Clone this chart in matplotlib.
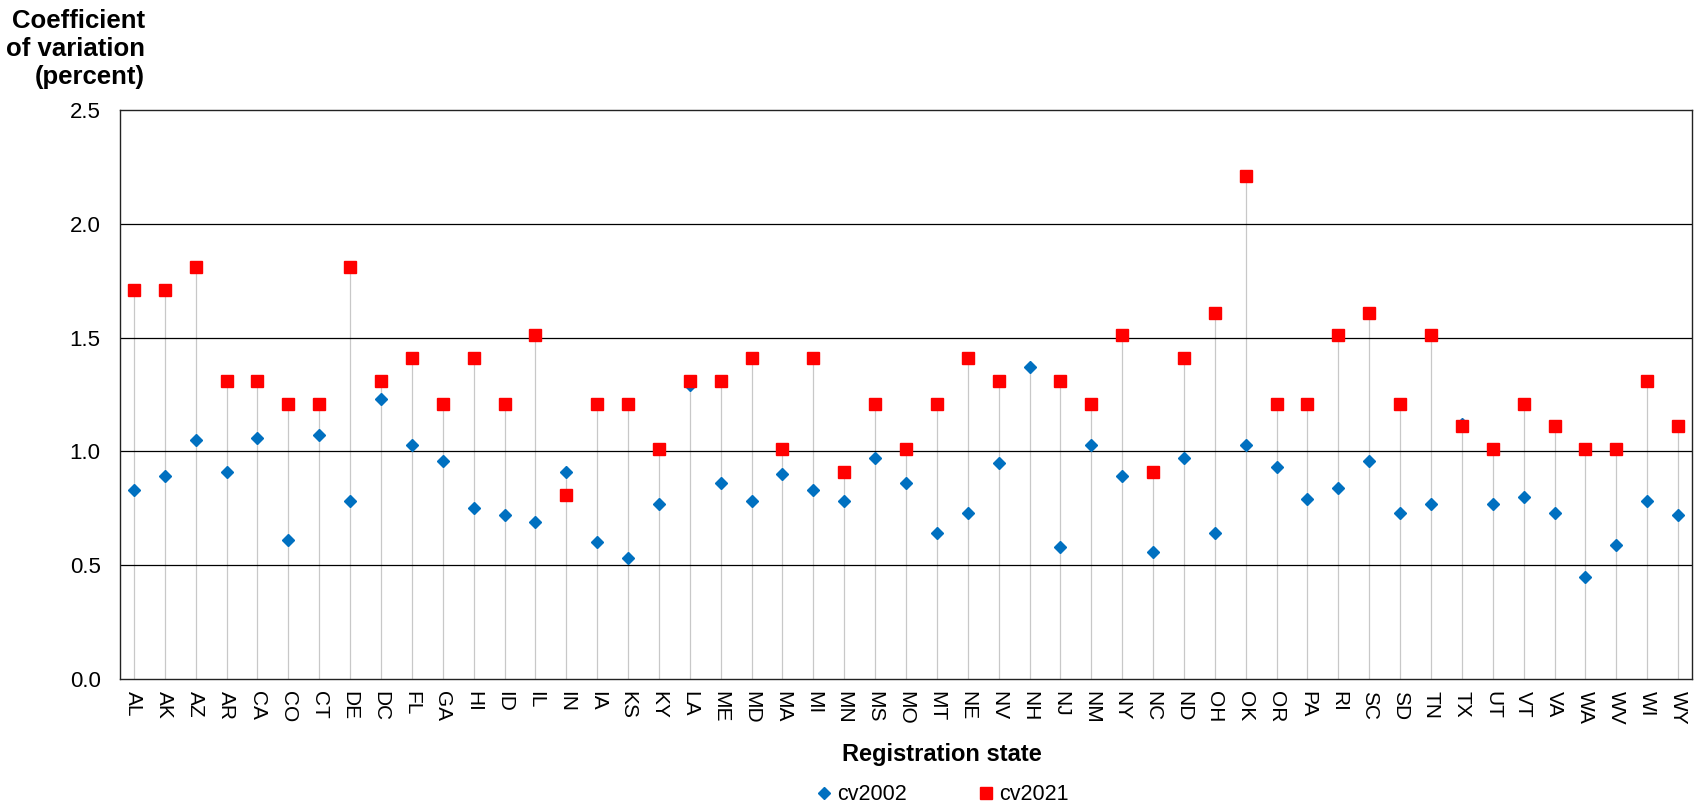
import numpy as np
import matplotlib
matplotlib.use("Agg")
import matplotlib.pyplot as plt
from matplotlib.lines import Line2D

plt.rcParams["font.family"] = ["Liberation Sans", "DejaVu Sans"]

states = ["AL", "AK", "AZ", "AR", "CA", "CO", "CT", "DE", "DC", "FL",
          "GA", "HI", "ID", "IL", "IN", "IA", "KS", "KY", "LA", "ME",
          "MD", "MA", "MI", "MN", "MS", "MO", "MT", "NE", "NV", "NH",
          "NJ", "NM", "NY", "NC", "ND", "OH", "OK", "OR", "PA", "RI",
          "SC", "SD", "TN", "TX", "UT", "VT", "VA", "WA", "WV", "WI", "WY"]

cv2002 = [0.83, 0.89, 1.05, 0.91, 1.06, 0.61, 1.07, 0.78, 1.23, 1.03,
          0.96, 0.75, 0.72, 0.69, 0.91, 0.60, 0.53, 0.77, 1.29, 0.86,
          0.78, 0.90, 0.83, 0.78, 0.97, 0.86, 0.64, 0.73, 0.95, 1.37,
          0.58, 1.03, 0.89, 0.56, 0.97, 0.64, 1.03, 0.93, 0.79, 0.84,
          0.96, 0.73, 0.77, 1.12, 0.77, 0.80, 0.73, 0.45, 0.59, 0.78, 0.72]

# NH has no 2021 value
cv2021 = [1.71, 1.71, 1.81, 1.31, 1.31, 1.21, 1.21, 1.81, 1.31, 1.41,
          1.21, 1.41, 1.21, 1.51, 0.81, 1.21, 1.21, 1.01, 1.31, 1.31,
          1.41, 1.01, 1.41, 0.91, 1.21, 1.01, 1.21, 1.41, 1.31, np.nan,
          1.31, 1.21, 1.51, 0.91, 1.41, 1.61, 2.21, 1.21, 1.21, 1.51,
          1.61, 1.21, 1.51, 1.11, 1.01, 1.21, 1.11, 1.01, 1.01, 1.31, 1.11]

y_ticks = [0.0, 0.5, 1.0, 1.5, 2.0, 2.5]

W, H = 1694, 807
fig = plt.figure(figsize=(W / 100, H / 100), dpi=100)
ax = fig.add_axes([120 / W, 1 - 679 / H, (1692 - 120) / W, (679 - 110) / H])

x = np.arange(len(states))
v02 = np.array(cv2002)
v21 = np.array(cv2021)
tops = np.fmax(v02, v21)

ax.vlines(x, 0, tops, colors="#c8c8c8", lw=0.9, zorder=1)
ax.plot(x, v02, ls="none", marker="D", ms=5.8, color="#0070c0", zorder=3)
ax.plot(x, v21, ls="none", marker="s", ms=8.4, color="#ff0000", zorder=4)

ax.set_xlim(-0.45, len(states) - 0.55)
ax.set_ylim(0, 2.5)
ax.set_yticks(y_ticks)
ax.set_yticklabels([f"{t:.1f}" for t in y_ticks])
ax.set_xticks(x)
ax.set_xticklabels(states, rotation=270)
ax.tick_params(axis="y", length=0, pad=14, labelsize=16)
ax.tick_params(axis="x", length=0, pad=8.5, labelsize=15)
for t in ax.get_xticklabels():
    t.set_va("top")
    t.set_ha("center")

for yv in y_ticks[1:-1]:
    ax.axhline(yv, color="black", lw=0.9, zorder=2)
for s in ax.spines.values():
    s.set_color("#222222")
    s.set_linewidth(1.0)

fig.text(145 / W, 1 - 49 / H, "Coefficient\nof variation\n(percent)",
         ha="right", va="center", multialignment="right",
         fontsize=18.5, fontweight="bold", linespacing=1.2)
fig.text(942 / W, 1 - 755 / H, "Registration state", ha="center", va="center",
         fontsize=17, fontweight="bold")

handles = [Line2D([], [], ls="none", marker="D", ms=5.8, color="#0070c0"),
           Line2D([], [], ls="none", marker="s", ms=8.4, color="#ff0000")]
fig.legend(handles, ["cv2002", "cv2021"], loc="center",
           bbox_to_anchor=(943 / W, 1 - 795 / H), ncol=2, frameon=False,
           fontsize=15.5, handlelength=0.6, handletextpad=0.3, columnspacing=3.4)

fig.savefig("out.png", dpi=100)
